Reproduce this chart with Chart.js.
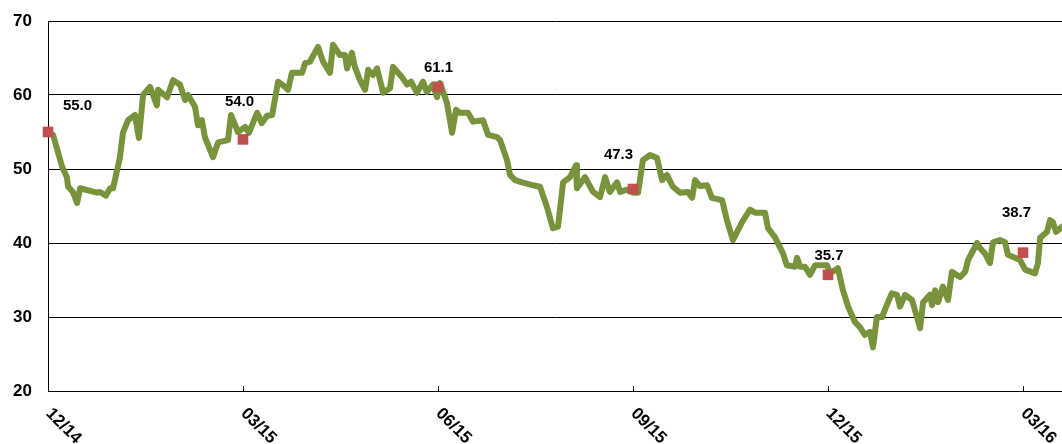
<!DOCTYPE html>
<html><head><meta charset="utf-8">
<script src="https://cdn.jsdelivr.net/npm/chart.js@4.4.1/dist/chart.umd.min.js"></script>
<style>html,body{margin:0;padding:0;background:#fff;overflow:hidden}</style>
</head><body>
<canvas id="c" width="1062" height="444"></canvas>
<script>
// x = trading-day index from 12/14 (one quarter = 65 days)
const days = [0,1.7,4.7,6.3,6.7,8.3,9.7,10.7,16.3,17.3,19.3,20.7,21.7,24,25,26.7,29,30.3,31.7,34,36.3,36.7,39.7,41.7,44,45.7,46.7,49,50,51.3,52.3,55,56.7,60,61,63.3,65.7,67,69.7,71.3,73,74.7,76.7,79,80,81.3,84.7,85.7,87.3,90,91.7,94,95,97.3,99,99.7,101.3,102.3,104,105.7,106.7,108.3,109.7,111.7,114,115,118,119.7,121,123,125,126.3,128.3,129.7,130.7,133,134.7,136,137.3,140,141.7,145,146.7,149.7,150.7,153,154,155.7,158,159,161.7,164,166.3,168.3,170,171.7,174,176,176.3,179,181.7,184,185.7,187.3,189.7,190.7,193,195,196.7,198.3,200.7,203,204.7,206.3,208.3,210.7,213.3,214.7,215.7,217.3,219.7,221.3,224.7,226.3,228.3,231.3,234,235.7,239,240,242.3,245,246.3,249,249.7,250.7,252.3,254,255.7,259.7,260.7,263.3,265,266.7,269,270.7,272.3,274,275,276.3,278,280,281.3,283,284,285.7,288,289.7,290.7,291.7,294,294.7,295.7,296.7,298.3,300,301.3,304,305.7,306.7,309.7,310.7,312.3,314,315,317.3,319,320,324,325.7,329,330,330.7,333,334,335,336,338];
const values = [55.0,54.6,50.3,48.9,47.6,46.9,45.4,47.4,46.8,46.9,46.4,47.4,47.4,51.6,54.9,56.6,57.3,54.2,60.0,61.1,58.6,60.7,59.7,62.0,61.4,59.3,60.0,58.4,55.9,56.6,54.3,51.6,53.6,53.9,57.3,55.0,55.7,54.9,57.6,56.2,57.2,57.3,61.8,61.1,60.7,63.0,63.0,64.3,64.5,66.5,64.5,63.0,66.8,65.4,65.4,63.6,65.7,63.8,62.0,60.7,63.4,62.7,63.6,60.3,60.9,63.8,62.4,61.4,61.8,60.3,61.8,60.4,61.4,59.7,61.6,58.9,54.9,58.0,57.6,57.6,56.4,56.6,54.6,54.3,53.9,51.2,49.2,48.5,48.2,48.1,47.8,47.6,44.9,42.0,42.2,48.2,48.9,50.5,47.4,48.9,46.9,46.2,48.9,46.9,48.2,46.9,47.2,46.8,46.8,51.2,51.9,51.5,48.5,49.2,47.6,46.8,46.9,46.1,48.5,47.7,47.8,46.1,45.8,43.1,40.4,42.8,44.5,44.1,44.1,42.0,40.8,38.6,37.0,36.8,38.0,36.8,36.8,35.7,37.0,37.0,35.9,36.6,33.6,31.4,29.3,28.6,27.6,28.0,25.9,30.0,30.0,32.0,33.2,33.0,31.4,33.0,32.3,29.9,28.5,32.0,33.0,31.6,33.6,32.0,34.1,32.3,36.1,35.4,36.1,37.7,40.0,39.3,38.6,37.3,40.1,40.4,40.1,38.4,37.7,36.4,35.9,37.3,40.7,41.5,43.1,42.8,41.5,42.2];
const markerDays = [0,65,130,195,260,325];
const markerValues = [55.0,54.0,61.1,47.3,35.7,38.7];
const tickDays = [0,65,130,195,260,325];
const tickLabels = ['12/14','03/15','06/15','09/15','12/15','03/16'];
const yMin = 20, yMax = 70, yStep = 10;

// label placement (styling only)
const labelOffsets = [[29.5,-26],[-3.5,-37.5],[0.5,-19.5],[-14.5,-34],[1,-19],[-6.5,-40]];
const FONT = '"Liberation Sans", Arial, sans-serif';

const overlay = {
  id: 'overlay',
  afterDatasetsDraw(chart) {
    const {ctx, scales: {x, y}, chartArea} = chart;
    ctx.save();
    ctx.strokeStyle = '#000'; ctx.lineWidth = 1;
    tickDays.forEach((d, i) => {
      const px = Math.round(x.getPixelForValue(d)) + 0.5;
      if (i > 0) {
        ctx.beginPath(); ctx.moveTo(px, chartArea.bottom - 5); ctx.lineTo(px, chartArea.bottom); ctx.stroke();
      }
      ctx.save();
      ctx.translate(px, chartArea.bottom + 20);
      ctx.rotate(Math.PI / 4);
      ctx.font = 'bold 17px ' + FONT;
      ctx.fillStyle = '#000';
      ctx.textAlign = 'left'; ctx.textBaseline = 'middle';
      ctx.fillText(tickLabels[i], 0, 0);
      ctx.restore();
    });
    ctx.font = 'bold 15px ' + FONT;
    ctx.fillStyle = '#000';
    ctx.textAlign = 'center'; ctx.textBaseline = 'middle';
    markerDays.forEach((d, i) => {
      const px = x.getPixelForValue(d), py = y.getPixelForValue(markerValues[i]);
      ctx.fillText(markerValues[i].toFixed(1), px + labelOffsets[i][0], py + labelOffsets[i][1]);
    });
    ctx.restore();
  }
};

new Chart(document.getElementById('c'), {
  type: 'scatter',
  data: {
    datasets: [
      {
        label: 'markers',
        data: markerDays.map((d, i) => ({x: d, y: markerValues[i]})),
        showLine: false,
        pointStyle: 'rect',
        pointRadius: 7.5,
        pointBackgroundColor: '#C0504D',
        pointBorderWidth: 0,
        clip: false
      },
      {
        label: 'series',
        data: days.map((d, i) => ({x: d, y: values[i]})),
        showLine: true,
        borderColor: '#77933C',
        borderWidth: 6,
        pointRadius: 0,
        tension: 0,
        borderJoinStyle: 'round',
        borderCapStyle: 'round'
      }
    ]
  },
  options: {
    responsive: false,
    animation: false,
    layout: {autoPadding: false, padding: {top: 21, right: 0, left: 0, bottom: 0}},
    plugins: {legend: {display: false}, tooltip: {enabled: false}},
    scales: {
      x: {
        type: 'linear', min: 0, max: 338,
        grid: {display: false},
        border: {display: true, color: '#000', width: 1},
        ticks: {display: false},
        afterFit(s) { s.height = 53; s.paddingLeft = 0; s.paddingRight = 0; }
      },
      y: {
        min: yMin, max: yMax,
        grid: {color: '#000', lineWidth: 1, drawTicks: false},
        border: {display: true, color: '#000', width: 1},
        ticks: {stepSize: yStep, padding: 16, color: '#000', font: {family: FONT, size: 17, weight: 'bold'}},
        afterFit(s) { s.width = 48; s.paddingTop = 0; s.paddingBottom = 0; }
      }
    }
  },
  plugins: [overlay]
});
</script>
</body></html>
